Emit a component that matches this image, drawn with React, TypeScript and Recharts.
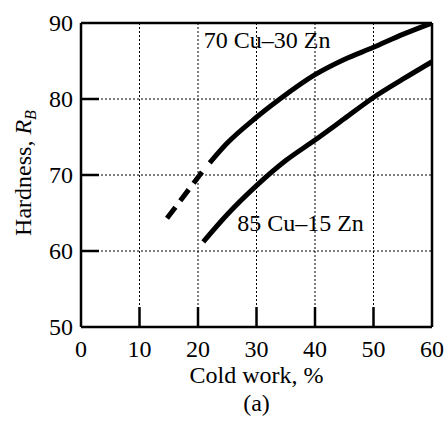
import React from "react";
import { LineChart, Line, XAxis, YAxis, CartesianGrid, ReferenceLine, ReferenceDot } from "recharts";

const xTicks = [0, 10, 20, 30, 40, 50, 60];
const yTicks = [50, 60, 70, 80, 90];

// 70 Cu-30 Zn, measured part
const brass70Work = [22, 25, 30, 34, 40, 45, 50, 55, 60];
const brass70Hard = [71.6, 74.2, 77.6, 80, 83.2, 85.2, 86.8, 88.5, 90];
// 70 Cu-30 Zn, extrapolated (dashed)
const brass70DashWork = [14.7, 20.7];
const brass70DashHard = [64.3, 70.4];
// 85 Cu-15 Zn
const brass85Work = [20.9, 25, 30, 35, 40, 45, 50, 55, 60];
const brass85Hard = [61.2, 64.8, 68.6, 71.9, 74.6, 77.4, 80.2, 82.6, 84.9];

const seriesLabels = [
  { text: "70 Cu\u201330 Zn", work: 21.0, hardness: 87.8 },
  { text: "85 Cu\u201315 Zn", work: 26.7, hardness: 63.8 },
];

const FONT = "'Liberation Serif', 'Times New Roman', serif";
const FS = 24;
const txt = { fontFamily: FONT, fontSize: FS };

const toRows = (xs: number[], ys: number[]) => xs.map((w, i) => ({ work: w, hardness: ys[i] }));

const YTick = (props: any) => {
  const { x, y, payload } = props;
  const edge = x + 8;
  const inner = payload.value > 50 && payload.value < 90;
  return (
    <g>
      {inner && <line x1={edge} x2={edge + 18} y1={y} y2={y} stroke="#000" strokeWidth={2.5} />}
      <text x={x} y={y} dy="0.35em" textAnchor="end" style={txt} fill="#000">
        {payload.value}
      </text>
    </g>
  );
};

const XTick = (props: any) => {
  const { x, y, payload } = props;
  const edge = y - 13;
  const inner = payload.value > 0 && payload.value < 60;
  return (
    <g>
      {inner && <line x1={x} x2={x} y1={edge} y2={edge - 20} stroke="#000" strokeWidth={2.5} />}
      <text x={x} y={y} dy="0.71em" textAnchor="middle" style={txt} fill="#000">
        {payload.value}
      </text>
    </g>
  );
};

const XLabel = (props: any) => {
  const { x, y, width } = props.viewBox;
  const cx = x + width / 2;
  return (
    <g fill="#000">
      <text x={cx} y={y + 56} textAnchor="middle" style={txt}>Cold work, %</text>
      <text x={cx} y={y + 84} textAnchor="middle" style={txt}>(a)</text>
    </g>
  );
};

const YLabel = (props: any) => {
  const { y, height } = props.viewBox;
  const cx = 31;
  const cy = y + height / 2 - 2;
  return (
    <text x={cx} y={cy} transform={`rotate(-90 ${cx} ${cy})`} textAnchor="middle" style={txt} fill="#000">
      Hardness, <tspan fontStyle="italic">R</tspan>
      <tspan fontStyle="italic" style={{ fontSize: 16 }} dy={5}>B</tspan>
    </text>
  );
};

const SeriesLabel = (text: string) => (props: any) => {
  const { x, y } = props.viewBox;
  return (
    <text x={x + 1} y={y + 1} dy="0.35em" textAnchor="start" style={txt} fill="#000">
      {text}
    </text>
  );
};

export default function App() {
  return (
    <div style={{ position: "absolute", left: 0, top: 0, background: "#fff", fontFamily: FONT }}>
      <LineChart width={448} height={421} margin={{ top: 23, right: 16, bottom: 0, left: 0 }}>
        <CartesianGrid stroke="#000" strokeDasharray="2 2" strokeWidth={1} />
        <XAxis
          type="number"
          dataKey="work"
          domain={[0, 60]}
          ticks={xTicks}
          height={94}
          tickSize={0}
          tickMargin={13}
          tickLine={false}
          tick={<XTick />}
          axisLine={{ stroke: "#000", strokeWidth: 2.5 }}
          allowDataOverflow
          label={{ content: <XLabel /> }}
        />
        <YAxis
          type="number"
          domain={[50, 90]}
          ticks={yTicks}
          width={81}
          tickSize={0}
          tickMargin={8}
          tickLine={false}
          tick={<YTick />}
          axisLine={{ stroke: "#000", strokeWidth: 2.5 }}
          allowDataOverflow
          label={{ content: <YLabel /> }}
        />
        <ReferenceLine y={90} stroke="#000" strokeWidth={2.5} />
        <ReferenceLine x={60} stroke="#000" strokeWidth={2.5} />
        <Line
          data={toRows(brass70DashWork, brass70DashHard)}
          dataKey="hardness"
          stroke="#000"
          strokeWidth={5}
          strokeDasharray="14 8"
          dot={false}
          isAnimationActive={false}
        />
        <Line
          data={toRows(brass70Work, brass70Hard)}
          type="monotone"
          dataKey="hardness"
          stroke="#000"
          strokeWidth={5}
          dot={false}
          isAnimationActive={false}
        />
        <Line
          data={toRows(brass85Work, brass85Hard)}
          type="monotone"
          dataKey="hardness"
          stroke="#000"
          strokeWidth={5}
          dot={false}
          isAnimationActive={false}
        />
        {seriesLabels.map((s) => (
          <ReferenceDot
            key={s.text}
            x={s.work}
            y={s.hardness}
            r={1}
            fill="none"
            stroke="none"
            label={{ content: SeriesLabel(s.text) }}
          />
        ))}
      </LineChart>
    </div>
  );
}
